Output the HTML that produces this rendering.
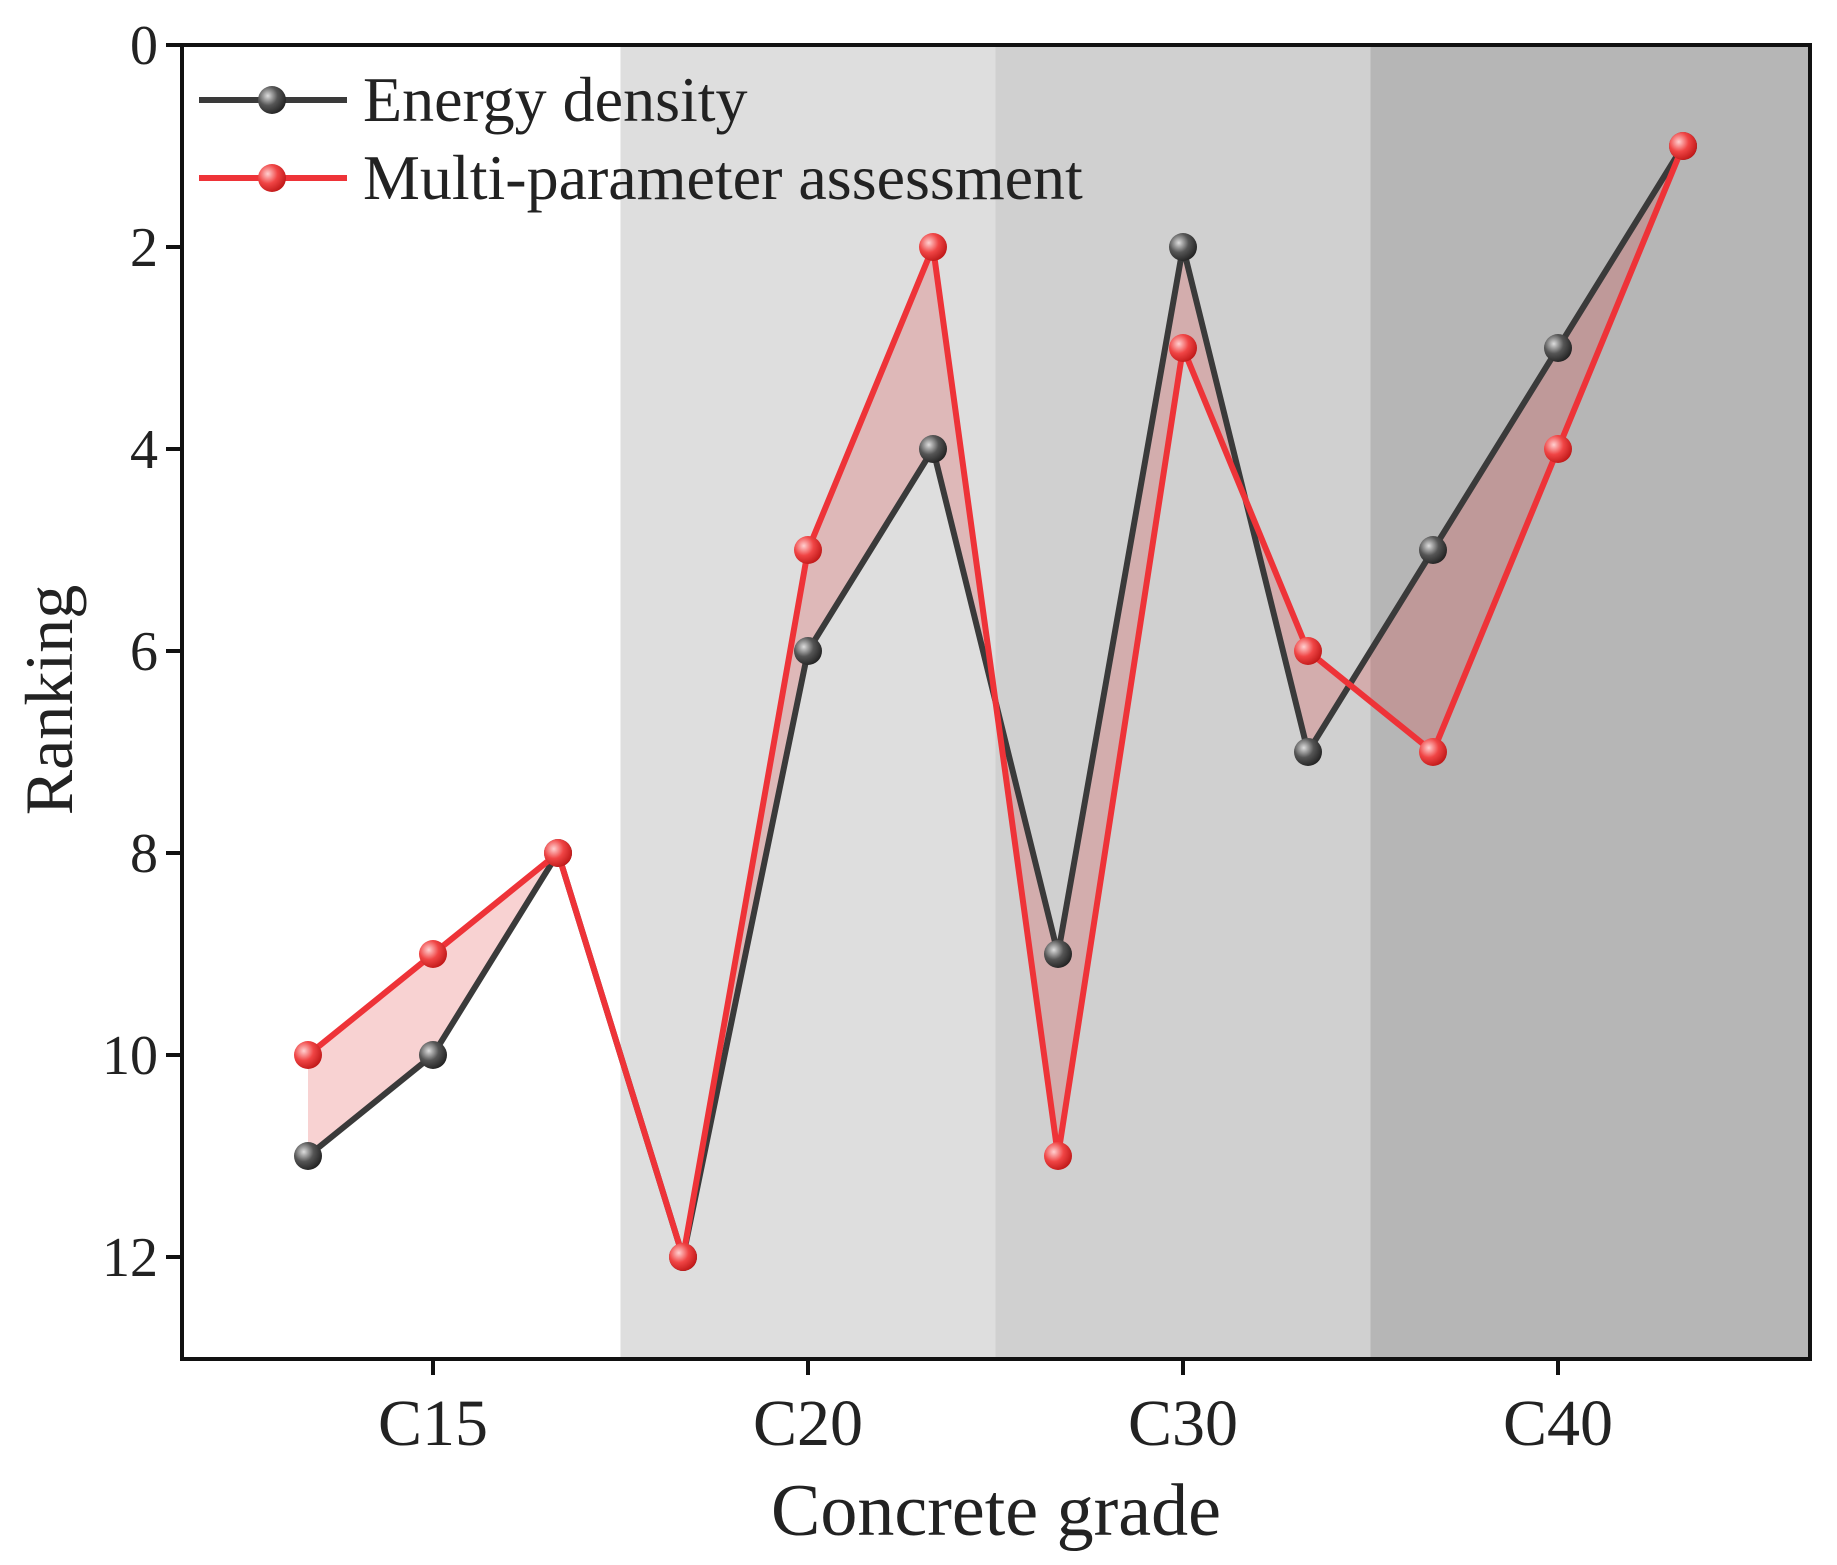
<!DOCTYPE html>
<html><head><meta charset="utf-8"><style>html,body{margin:0;padding:0;background:#fff}svg{display:block}</style></head>
<body>
<svg id="chart" width="1837" height="1565" xmlns="http://www.w3.org/2000/svg" font-family="'Liberation Serif', serif">
<defs>
<radialGradient id="gBlack" cx="0.35" cy="0.35" r="0.7"><stop offset="0" stop-color="#ddd"/><stop offset="0.5" stop-color="#555"/><stop offset="1" stop-color="#222"/></radialGradient>
<radialGradient id="gRed" cx="0.35" cy="0.35" r="0.7"><stop offset="0" stop-color="#ffd0d0"/><stop offset="0.5" stop-color="#f04545"/><stop offset="1" stop-color="#c01818"/></radialGradient>
</defs>
<g id="bands"></g><g id="fill"></g><g id="lines"></g><g id="axes"></g>
</svg>
<script>
const categories = ['C15','C20','C30','C40'];
const energy = [11,10,8,12,6,4,9,2,7,5,3,1];
const multi  = [10,9,8,12,5,2,11,3,6,7,4,1];
const yTicks = [0,2,4,6,8,10,12];
const bandColors = ['#ffffff','#dedede','#d0d0d0','#b6b6b6'];

const L=182,R=1810,T=45,B=1359;
const c0=433, cStep=375;
const catX = c => c0 + c*cStep;
const ptX = i => catX((i-1)/3);
const yS = v => T + v*(1257-T)/12;
const NS='http://www.w3.org/2000/svg';
function mk(tag,attrs,parent){const e=document.createElementNS(NS,tag);for(const k in attrs)e.setAttribute(k,attrs[k]);parent.appendChild(e);return e;}
const bands=document.getElementById('bands'),fillG=document.getElementById('fill'),lines=document.getElementById('lines'),axes=document.getElementById('axes');

bandColors.forEach((c,i)=>{
  const x0 = i===0?L:catX(i-0.5), x1 = i===bandColors.length-1?R:catX(i+0.5);
  const r=mk('rect',{x:x0,y:T,width:x1-x0,height:B-T,fill:c},bands);
  
  
});

let pts=energy.map((v,i)=>ptX(i)+','+yS(v));
let pts2=multi.map((v,i)=>ptX(i)+','+yS(v)).reverse();
const poly=mk('polygon',{points:pts.concat(pts2).join(' '),fill:'rgba(225,50,50,0.22)','fill-rule':'nonzero'},fillG);



function series(data,color,grad,name){
  const pl=mk('polyline',{points:data.map((v,i)=>ptX(i)+','+yS(v)).join(' '),fill:'none',stroke:color,'stroke-width':6,'stroke-linejoin':'miter'},lines);
  
  
  data.forEach((v,i)=>{
    const c=mk('circle',{cx:ptX(i),cy:yS(v),r:14,fill:'url(#'+grad+')'},lines);
    
    
  });
}
series(energy,'#3a3a3a','gBlack','energy-density');
series(multi,'#ee3338','gRed','multi-parameter');

const fr=mk('rect',{x:L,y:T,width:R-L,height:B-T,fill:'none',stroke:'#111','stroke-width':4},axes);


yTicks.forEach(v=>{
  mk('line',{x1:L-16,x2:L,y1:yS(v),y2:yS(v),stroke:'#111','stroke-width':4},axes);
  const t=mk('text',{x:L-24,y:yS(v)+19,'text-anchor':'end','font-size':56,fill:'#222'},axes);
  t.textContent=v;
  
  
});
categories.forEach((c,i)=>{
  mk('line',{x1:catX(i),x2:catX(i),y1:B,y2:B+16,stroke:'#111','stroke-width':4},axes);
  const t=mk('text',{x:catX(i),y:1445,'text-anchor':'middle','font-size':66,fill:'#222'},axes);
  t.textContent=c;
  
  
});
const xt=mk('text',{x:996,y:1535,'text-anchor':'middle','font-size':74,fill:'#222'},axes);
xt.textContent='Concrete grade';


const yt=mk('text',{x:0,y:0,'text-anchor':'middle','font-size':68,fill:'#222',transform:'translate(72,700) rotate(-90)'},axes);
yt.textContent='Ranking';



[['Energy density','#3a3a3a','gBlack',100],['Multi-parameter assessment','#ee3338','gRed',178]].forEach(([lab,col,g,y])=>{
  const grp=mk('g',{},axes);
  
  
  mk('line',{x1:199,x2:347,y1:y,y2:y,stroke:col,'stroke-width':6},grp);
  mk('circle',{cx:272,cy:y,r:14,fill:'url(#'+g+')'},grp);
  const t=mk('text',{x:363,y:y+21,'font-size':64,fill:'#222'},grp);
  t.textContent=lab;
});
</script>
</body></html>
